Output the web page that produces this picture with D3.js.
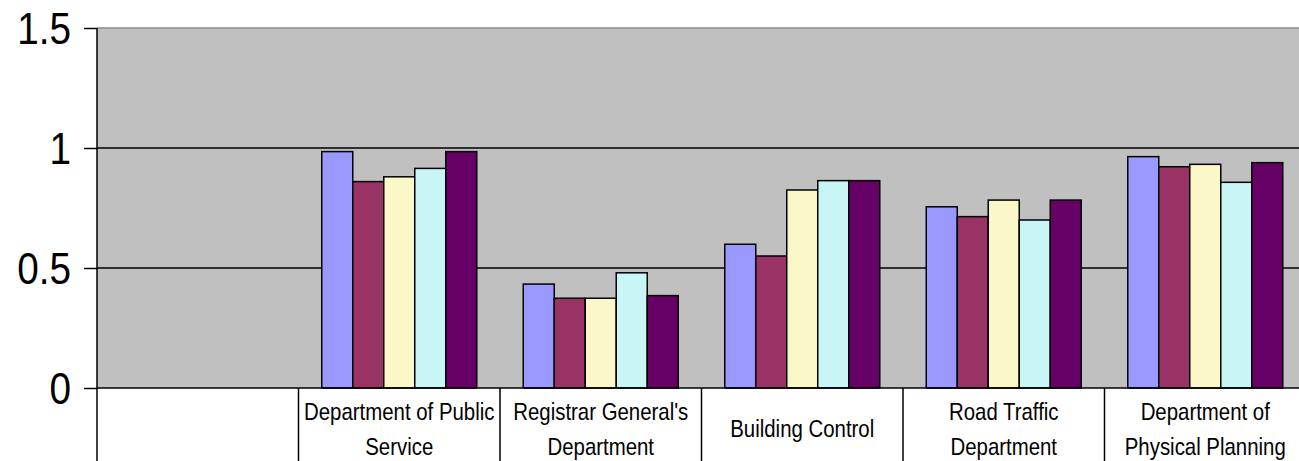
<!DOCTYPE html>
<html>
<head>
<meta charset="utf-8">
<script src="https://cdn.jsdelivr.net/npm/d3@7"></script>
<style>
  html, body { margin: 0; padding: 0; background: #fff; }
  svg { display: block; }
</style>
</head>
<body>
<svg id="chart" width="1299" height="461"></svg>
<script>
// ---- data ----
const categories = ["", "Department of Public Service", "Registrar General's Department", "Building Control", "Road Traffic Department", "Department of Physical Planning"];
const categoryLines = [[], ["Department of Public", "Service"], ["Registrar General's", "Department"], ["Building Control"], ["Road Traffic", "Department"], ["Department of", "Physical Planning"]];
const seriesNames = ["S1", "S2", "S3", "S4", "S5"];
const series1 = [null, 0.985, 0.433, 0.599, 0.755, 0.964];
const series2 = [null, 0.860, 0.374, 0.550, 0.714, 0.922];
const series3 = [null, 0.880, 0.374, 0.825, 0.783, 0.932];
const series4 = [null, 0.915, 0.480, 0.864, 0.700, 0.857];
const series5 = [null, 0.985, 0.385, 0.864, 0.783, 0.939];
const yTicks = [0, 0.5, 1, 1.5];
const colors = ["#9999FF", "#993366", "#FAF8C8", "#C8F6F6", "#660066"];

const allSeries = [series1, series2, series3, series4, series5];

// ---- layout ----
const mLeft = 97, mRight = 1306, mTop = 28, mBottom = 388;
const svg = d3.select("#chart");

const x = d3.scaleBand().domain(categories).range([mLeft, mRight]).padding(0);
const xi = d3.scaleBand().domain(seriesNames).range([0, x.bandwidth()]).paddingInner(0).paddingOuter(0.75);
const y = d3.scaleLinear().domain([0, 1.5]).range([mBottom, mTop]);

// plot background
svg.append("rect").attr("x", mLeft).attr("y", y(1.5)).attr("width", mRight - mLeft).attr("height", y(0) - y(1.5)).attr("fill", "#C0C0C0");

// gridlines
svg.append("g").selectAll("line").data(yTicks.filter(d => d > 0)).join("line")
  .attr("x1", mLeft).attr("x2", mRight)
  .attr("y1", d => y(d)).attr("y2", d => y(d))
  .attr("stroke", d => d === 1.5 ? "#8a8a8a" : "#000")
  .attr("stroke-width", 1.5);

// bars
const barData = [];
categories.forEach((c, ci) => {
  allSeries.forEach((s, si) => {
    if (s[ci] != null) barData.push({ c, s: seriesNames[si], v: s[ci], color: colors[si] });
  });
});
svg.append("g").selectAll("rect").data(barData).join("rect")
  .attr("x", d => x(d.c) + xi(d.s))
  .attr("y", d => y(d.v))
  .attr("width", xi.bandwidth())
  .attr("height", d => y(0) - y(d.v))
  .attr("fill", d => d.color)
  .attr("stroke", "#000")
  .attr("stroke-width", 1.5);

// y axis
const yAxis = d3.axisLeft(y).tickValues(yTicks).tickSize(13).tickPadding(0).tickFormat(d => String(d));
const ya = svg.append("g").attr("transform", `translate(${mLeft},0)`).call(yAxis);
ya.select(".domain").remove();
ya.selectAll(".tick line").attr("stroke", "#000").attr("stroke-width", 1.5);
ya.selectAll(".tick text")
  .attr("x", null).attr("dy", null)
  .attr("font-family", "'Liberation Sans', Arial, sans-serif")
  .attr("font-size", 44)
  .attr("fill", "#000")
  .attr("text-anchor", "end")
  .attr("dominant-baseline", "central")
  .attr("transform", "translate(-26,0) scale(0.88,1)");

// y axis line (extends through table)
svg.append("line").attr("x1", mLeft).attr("x2", mLeft).attr("y1", mTop).attr("y2", 461).attr("stroke", "#000").attr("stroke-width", 1.5);
// x axis / table top line
svg.append("line").attr("x1", mLeft).attr("x2", mRight).attr("y1", mBottom).attr("y2", mBottom).attr("stroke", "#000").attr("stroke-width", 1.5);

// table vertical separators
svg.append("g").selectAll("line").data(categories.slice(1)).join("line")
  .attr("x1", d => x(d)).attr("x2", d => x(d))
  .attr("y1", mBottom).attr("y2", 461)
  .attr("stroke", "#000").attr("stroke-width", 1.5);

// category labels
const lab = svg.append("g").selectAll("g").data(categories.map((c, i) => ({ c, lines: categoryLines[i] }))).join("g");
lab.each(function(d) {
  const g = d3.select(this);
  const cx = x(d.c) + x.bandwidth() / 2;
  const baselines = d.lines.length === 2 ? [419.5, 455] : [437];
  d.lines.forEach((t, k) => {
    g.append("text")
      .attr("transform", `translate(${cx},${baselines[k]}) scale(0.85,1)`)
      .attr("text-anchor", "middle")
      .attr("font-family", "'Liberation Sans', Arial, sans-serif")
      .attr("font-size", 24)
      .attr("fill", "#000")
      .text(t);
  });
});
</script>
</body>
</html>
